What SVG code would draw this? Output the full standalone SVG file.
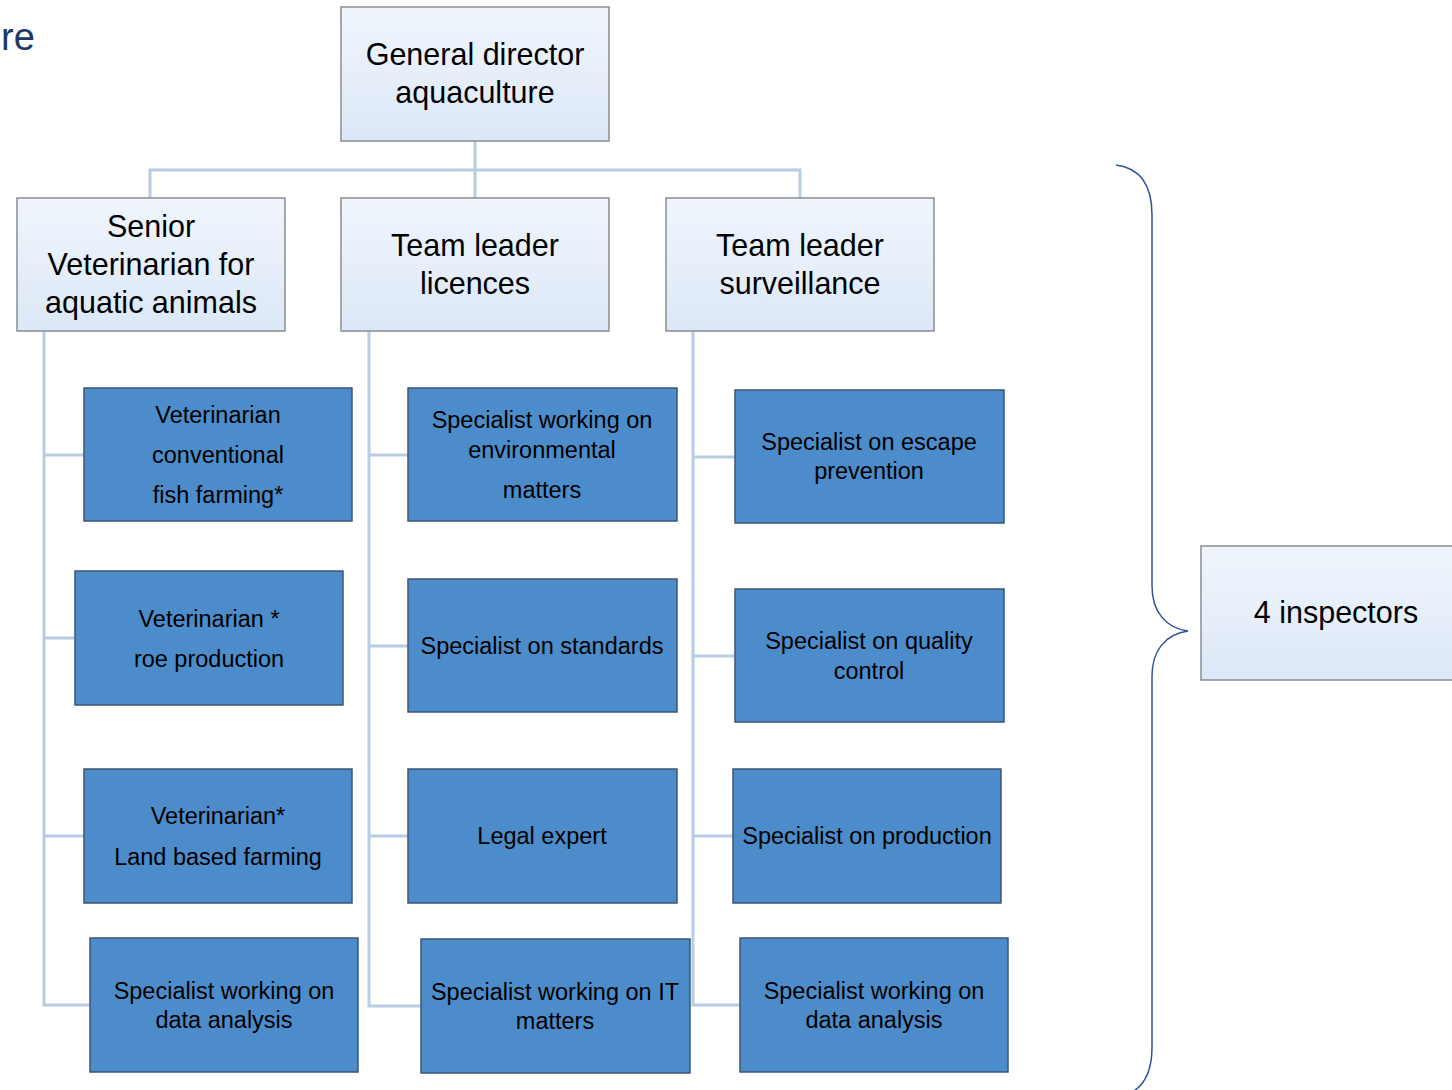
<svg xmlns="http://www.w3.org/2000/svg" width="1452" height="1090" viewBox="0 0 1452 1090">
<defs>
<linearGradient id="lg" x1="0" y1="0" x2="0" y2="1">
<stop offset="0" stop-color="#f0f5fc"/>
<stop offset="1" stop-color="#dce8f7"/>
</linearGradient>
<style>
.lb{fill:url(#lg);stroke:#8a8d92;stroke-width:1.5}
.bb{fill:#4d8cca;stroke:#3e5572;stroke-width:1.5}
.t1{font-family:"Liberation Sans",Arial,sans-serif;font-size:30.5px;fill:#000;text-anchor:middle}
.t2{font-family:"Liberation Sans",Arial,sans-serif;font-size:23.5px;fill:#000;text-anchor:middle}
.c{fill:none;stroke:#b8cce4;stroke-width:3}
</style>
</defs>
<rect width="1452" height="1090" fill="#fff"/>
<text x="1" y="50" font-family="Liberation Sans,Arial,sans-serif" font-size="38" fill="#203864">re</text>

<g id="connectors">
<path class="c" d="M475 141V198M150 198V170H800V198"/>
<path class="c" d="M44 331V1005H90M44 455H84M44 638H75M44 836H84"/>
<path class="c" d="M369 331V1006H421M369 455H408M369 646H408M369 836H408"/>
<path class="c" d="M693 331V1005H740M693 457H735M693 656H735M693 836H733"/>
<path d="M1116 165C1140 168 1152 185 1152 215V586C1152 612 1166 628 1188 631C1166 634 1152 650 1152 676V1047C1152 1077 1140 1094 1116 1097" fill="none" stroke="#2f5597" stroke-width="1.5"/>
</g>

<g id="general-director"><rect class="lb" x="341" y="7" width="268" height="134"/>
<text class="t1" x="475" y="65">General director</text><text class="t1" x="475" y="103">aquaculture</text></g>

<g id="senior-vet"><rect class="lb" x="17" y="198" width="268" height="133"/>
<text class="t1" x="151" y="237">Senior</text><text class="t1" x="151" y="275">Veterinarian for</text><text class="t1" x="151" y="313">aquatic animals</text></g>

<g id="tl-licences"><rect class="lb" x="341" y="198" width="268" height="133"/>
<text class="t1" x="475" y="256">Team leader</text><text class="t1" x="475" y="294">licences</text></g>

<g id="tl-surveillance"><rect class="lb" x="666" y="198" width="268" height="133"/>
<text class="t1" x="800" y="256">Team leader</text><text class="t1" x="800" y="294">surveillance</text></g>

<g id="inspectors"><rect class="lb" x="1201" y="546" width="260" height="134"/>
<text class="t1" x="1336" y="623">4 inspectors</text></g>

<g id="vet-conventional"><rect class="bb" x="84" y="388" width="268" height="133"/>
<text class="t2" x="218" y="423">Veterinarian</text><text class="t2" x="218" y="463">conventional</text><text class="t2" x="218" y="503">fish farming*</text></g>

<g id="vet-roe"><rect class="bb" x="75" y="571" width="268" height="134"/>
<text class="t2" x="209" y="627">Veterinarian *</text><text class="t2" x="209" y="667">roe production</text></g>

<g id="vet-land"><rect class="bb" x="84" y="769" width="268" height="134"/>
<text class="t2" x="218" y="824">Veterinarian*</text><text class="t2" x="218" y="865">Land based farming</text></g>

<g id="spec-data-1"><rect class="bb" x="90" y="938" width="268" height="134"/>
<text class="t2" x="224" y="999">Specialist working on</text><text class="t2" x="224" y="1028">data analysis</text></g>

<g id="spec-env"><rect class="bb" x="408" y="388" width="269" height="133"/>
<text class="t2" x="542" y="428">Specialist working on</text><text class="t2" x="542" y="458">environmental</text><text class="t2" x="542" y="498">matters</text></g>

<g id="spec-standards"><rect class="bb" x="408" y="579" width="269" height="133"/>
<text class="t2" x="542" y="654">Specialist on standards</text></g>

<g id="legal"><rect class="bb" x="408" y="769" width="269" height="134"/>
<text class="t2" x="542" y="844">Legal expert</text></g>

<g id="spec-it"><rect class="bb" x="421" y="939" width="269" height="134"/>
<text class="t2" x="555" y="1000">Specialist working on IT</text><text class="t2" x="555" y="1029">matters</text></g>

<g id="spec-escape"><rect class="bb" x="735" y="390" width="269" height="133"/>
<text class="t2" x="869" y="450">Specialist on escape</text><text class="t2" x="869" y="479">prevention</text></g>

<g id="spec-quality"><rect class="bb" x="735" y="589" width="269" height="133"/>
<text class="t2" x="869" y="649">Specialist on quality</text><text class="t2" x="869" y="679">control</text></g>

<g id="spec-production"><rect class="bb" x="733" y="769" width="268" height="134"/>
<text class="t2" x="867" y="844">Specialist on production</text></g>

<g id="spec-data-3"><rect class="bb" x="740" y="938" width="268" height="134"/>
<text class="t2" x="874" y="999">Specialist working on</text><text class="t2" x="874" y="1028">data analysis</text></g>
</svg>
